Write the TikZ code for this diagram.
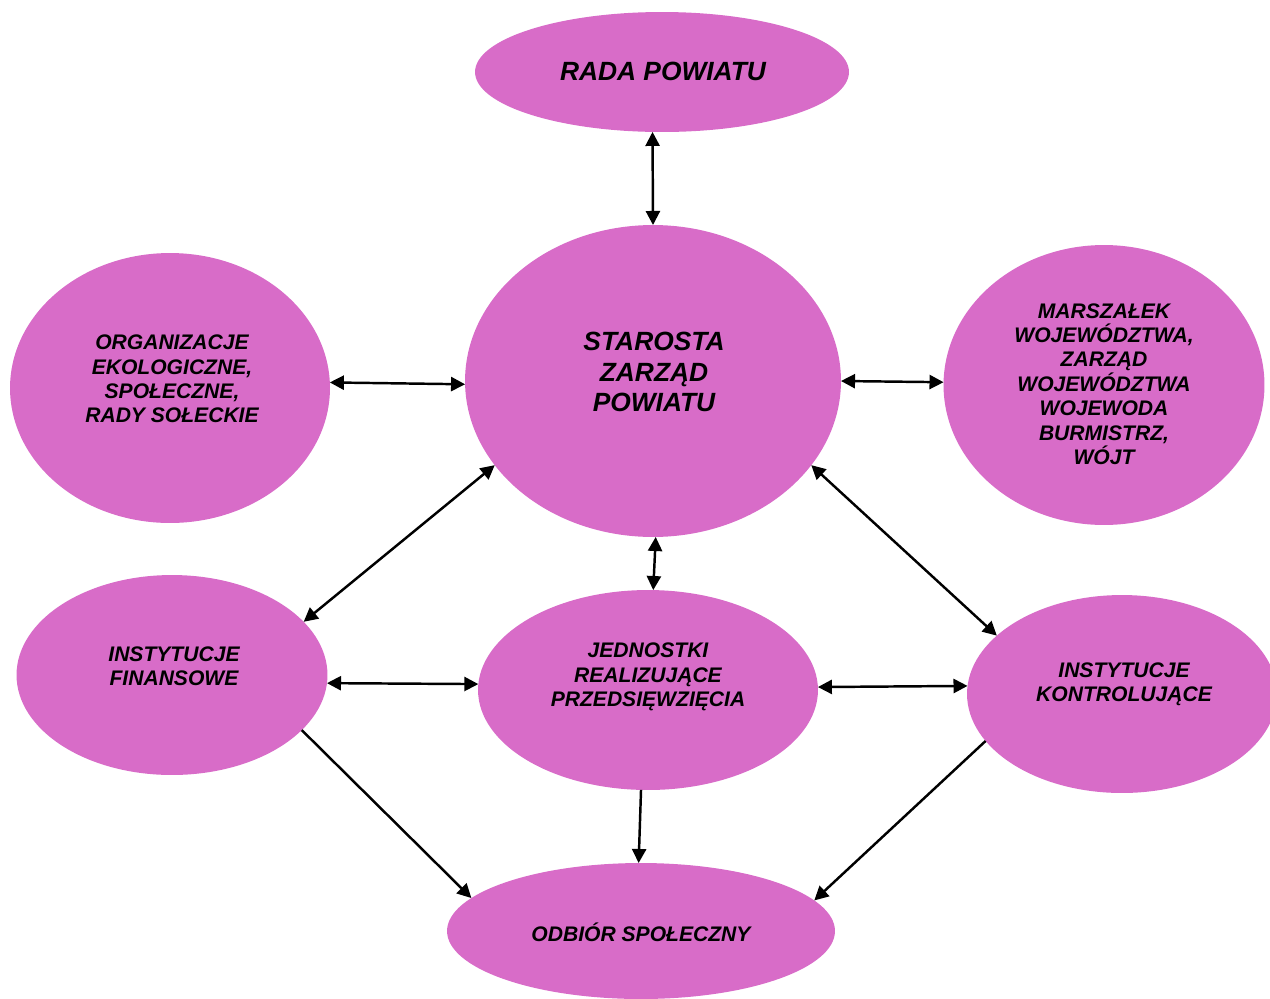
\documentclass[tikz,border=0pt]{standalone}
\usepackage{fontspec}
\setmainfont{Liberation Sans}
\usetikzlibrary{shapes.geometric,arrows.meta}
\definecolor{fiolet}{RGB}{216,108,200}

\begin{document}
\begin{tikzpicture}[x=0.02cm,y=-0.02cm]
		\tikzset{owal/.style={ellipse,fill=fiolet,inner sep=0pt,outer sep=0pt}}
		\tikzset{napis/.style={font=\bfseries\itshape\fontsize{12}{13.9}\selectfont,align=center,inner sep=0pt}}
		\tikzset{grot/.tip={Triangle[length=8pt,width=8pt]}}
		\tikzset{obie/.style={line width=1.4pt,grot-grot}}
		\tikzset{jedna/.style={line width=1.4pt,-grot}}
		\useasboundingbox (0,0) rectangle (1270,998); %image size in px
		\node[owal,minimum width=7.48cm,minimum height=2.4cm] (rada) at (662,72) {};
		\node[owal,minimum width=7.52cm,minimum height=6.24cm] (star) at (653,381) {};
		\node[owal,minimum width=6.4cm,minimum height=5.4cm] (org) at (170,388) {};
		\node[owal,minimum width=6.42cm,minimum height=5.6cm] (marsz) at (1104,385) {};
		\node[owal,minimum width=6.22cm,minimum height=4cm] (fin) at (172,675) {};
		\node[owal,minimum width=6.8cm,minimum height=4cm] (jedn) at (648,690) {};
		\node[owal,minimum width=6.2cm,minimum height=3.96cm] (kontr) at (1122,694) {};
		\node[owal,minimum width=7.76cm,minimum height=2.72cm] (odb) at (641,931) {};
		\node[napis,font=\bfseries\itshape\fontsize{15}{17.3}\selectfont] (radaT) at (663,71) {RADA POWIATU};
		\node[napis,font=\bfseries\itshape\fontsize{15}{17.3}\selectfont] (starT) at (654,372) {STAROSTA\\ZARZĄD\\POWIATU};
		\node[napis] (orgT) at (172,379) {ORGANIZACJE\\EKOLOGICZNE,\\SPOŁECZNE,\\RADY SOŁECKIE};
		\node[napis] (marszT) at (1104,384) {MARSZAŁEK\\WOJEWÓDZTWA,\\ZARZĄD\\WOJEWÓDZTWA\\WOJEWODA\\BURMISTRZ,\\WÓJT};
		\node[napis] (finT) at (174,666) {INSTYTUCJE\\FINANSOWE};
		\node[napis] (jednT) at (648,677) {JEDNOSTKI\\REALIZUJĄCE\\PRZEDSIĘWZIĘCIA};
		\node[napis] (kontrT) at (1124,684) {INSTYTUCJE\\KONTROLUJĄCE};
		\node[napis] (odbT) at (641,932) {ODBIÓR SPOŁECZNY};
		\draw[obie] (rada.261) -- (star.north);
		\draw[obie] (org.2) -- (star.181);
		\draw[obie] (star.0) -- (marsz.179);
		\draw[obie] (star.208) -- (fin.22);
		\draw[obie] (star.271) -- (jedn.87);
		\draw[obie] (star.332) -- (kontr.155);
		\draw[obie] (fin.357) -- (jedn.178);
		\draw[obie] (jedn.1) -- (kontr.177);
		\draw[jedna] (fin.337) -- (odb.169);
		\draw[jedna] (jedn.266) -- (odb.92);
		\draw[jedna] (kontr.199) -- (odb.10);
\end{tikzpicture}
\end{document}
